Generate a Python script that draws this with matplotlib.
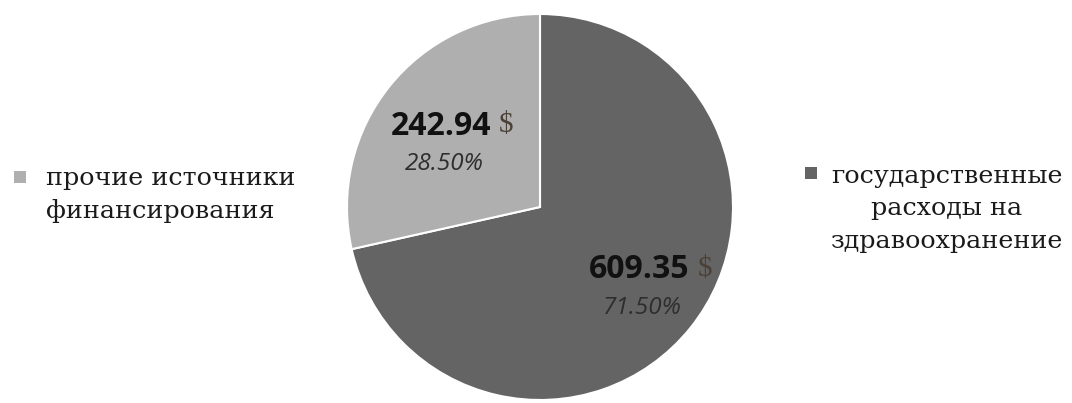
import numpy as np
import matplotlib
matplotlib.use("Agg")
import matplotlib.pyplot as plt

# Data
categories = ["государственные\nрасходы на\nздравоохранение", "прочие источники\nфинансирования"]
values = [609.35, 242.94]
percents = ["71.50%", "28.50%"]
colors = ["#646464", "#afafaf"]

W, H = 1072, 403
fig = plt.figure(figsize=(W / 100, H / 100), dpi=100)
fig.patch.set_facecolor("white")
ax = fig.add_axes([0, 0, 1, 1])

cx, cy, R = 540, H - 207, 193
wedges, _ = ax.pie(values, colors=colors, startangle=90, counterclock=False,
                   center=(cx, cy), radius=R, frame=True,
                   wedgeprops=dict(edgecolor="white", linewidth=1.5))
ax.set_xlim(0, W)
ax.set_ylim(0, H)
ax.set_aspect("equal")
ax.axis("off")

# labels (anchor = percent label centre, in polar coords from pie centre)
label_pos = [(-44.5, 0.745), (156, 0.545)]
for w, val, pct, (ang_off, frac) in zip(wedges, values, percents, label_pos):
    ang = np.deg2rad(ang_off)
    x = cx + frac * R * np.cos(ang)
    y = cy + frac * R * np.sin(ang)
    ax.text(x + 47, y + 38, f"{val:.2f}", ha="right", va="center",
            fontsize=23, fontweight="bold", family="Open Sans", color="#111111")
    ax.text(x + 55, y + 39, "\\$", ha="left", va="center",
            fontsize=21, family="Liberation Serif", color="#4a4035")
    ax.text(x, y, pct, ha="center", va="center",
            fontsize=17.5, style="italic", family="Open Sans", color="#2e2e2e")

# legends
ax.add_patch(plt.Rectangle((14, H - 183), 12, 12, color=colors[1], lw=0))
ax.text(46, H - 195, categories[1], ha="left", va="center", fontsize=18.3,
        family="DejaVu Serif", color="#1a1a1a", linespacing=1.52)

ax.add_patch(plt.Rectangle((805, H - 179), 12, 12, color=colors[0], lw=0))
ax.text(947, H - 209, categories[0], ha="center", va="center", fontsize=18.3,
        family="DejaVu Serif", color="#1a1a1a", linespacing=1.52,
        multialignment="center")

fig.savefig("out.png", dpi=100, facecolor="white")
